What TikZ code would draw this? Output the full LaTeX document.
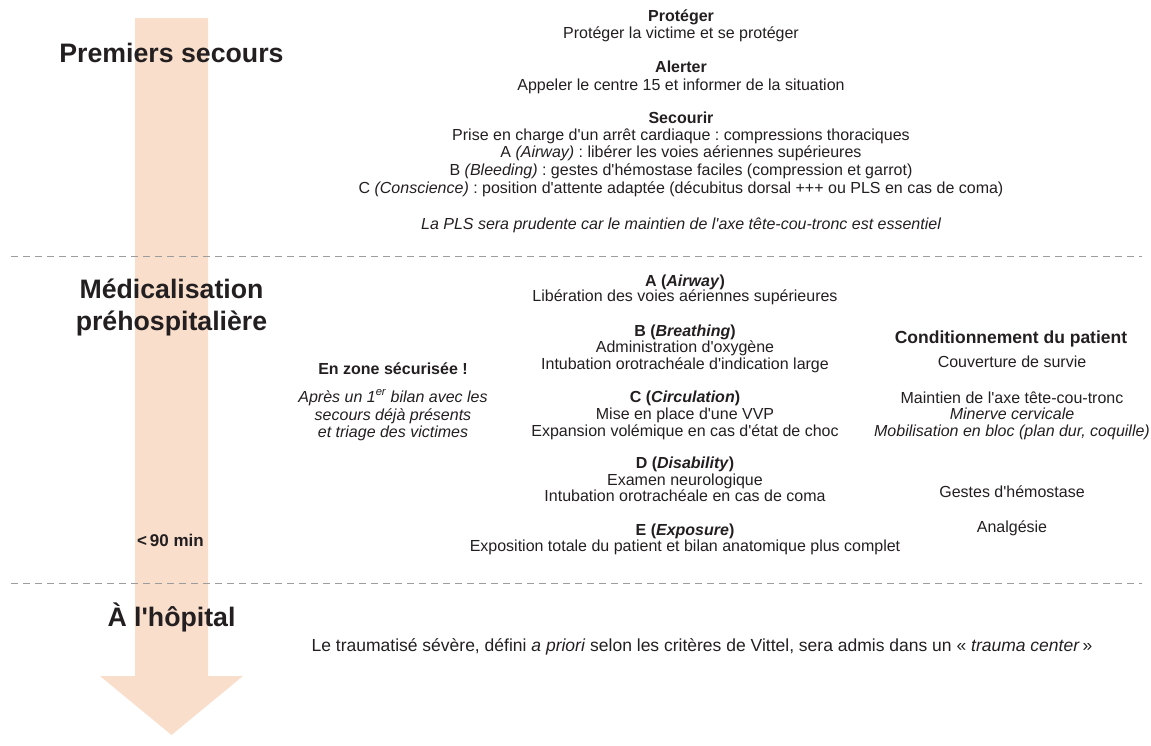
\documentclass[tikz,border=0pt]{standalone}
\usepackage{fontspec}
\setmainfont{Liberation Sans}[Ligatures=TeXOff]
\definecolor{ink}{HTML}{231F20}
\definecolor{peach}{HTML}{F9DECC}
\definecolor{dashc}{HTML}{9C9C9C}
\frenchspacing
\begin{document}
\begin{tikzpicture}[x=1pt,y=-1pt,
  every node/.style={inner sep=0pt, outer sep=0pt, anchor=base, text=ink},
  ttl/.style={font=\fontsize{26.7}{30}\selectfont\bfseries},
  tr/.style={font=\fontsize{16}{18}\selectfont},
  tbf/.style={font=\fontsize{16}{18}\selectfont\bfseries},
  tit/.style={font=\fontsize{16}{18}\selectfont\itshape},
  rbf/.style={font=\fontsize{17.5}{18}\selectfont\bfseries},
  btm/.style={font=\fontsize{17.5}{20}\selectfont},
  sep/.style={draw=dashc, line width=1pt, dash pattern=on 6.5pt off 5.5pt}]
\path[use as bounding box] (0,0) rectangle (1151,745);
% timeline arrow
\fill[peach] (135,18) -- (208,18) -- (208,676) -- (243,676) -- (171.5,735)
  -- (100,676) -- (135,676) -- cycle;
% separators
\coordinate (s1a) at (11,256); \coordinate (s1b) at (1142,256);
\coordinate (s2a) at (11,583); \coordinate (s2b) at (1142,583);
\draw[sep] (s1a) -- (s1b);
\draw[sep] (s2a) -- (s2b);
% ---------- Premiers secours ----------
\node[ttl] (t1) at (171.5,62.7) {Premiers secours};
\node[tbf] (p1) at (681,21) {Protéger};
\node[tr]  (p2) at (681,38.5) {Protéger la victime et se protéger};
\node[tbf] (a1) at (681,72.5) {Alerter};
\node[tr]  (a2) at (681,90) {Appeler le centre 15 et informer de la situation};
\node[tbf] (s1) at (681,123) {Secourir};
\node[tr]  (s2) at (681,140) {Prise en charge d'un arrêt cardiaque : compressions thoraciques};
\node[tr]  (s3) at (681,157.7) {A \textit{(Airway)} : libérer les voies aériennes supérieures};
\node[tr]  (s4) at (681,175.5) {B \textit{(Bleeding)} : gestes d'hémostase faciles (compression et garrot)};
\node[tr]  (s5) at (681,193) {C \textit{(Conscience)} : position d'attente adaptée (décubitus dorsal +++ ou PLS en cas de coma)};
\node[tit] (s6) at (681,229) {La PLS sera prudente car le maintien de l'axe tête-cou-tronc est essentiel};
% ---------- Médicalisation ----------
\node[ttl] (t2a) at (171.5,298) {Médicalisation};
\node[ttl] (t2b) at (171.5,330) {préhospitalière};
\node[tbf] (z1) at (393,374) {En zone sécurisée !};
\node[tit] (z2) at (393,402) {Après un 1\textsuperscript{er} bilan avec les};
\node[tit] (z3) at (393,420) {secours déjà présents};
\node[tit] (z4) at (393,437) {et triage des victimes};
\node[font=\fontsize{17}{18}\selectfont\bfseries] (tm) at (170.5,546) {<\,90 min};
% ABCDE
\node[tbf] (m1) at (685,286.5) {A (\textit{Airway})};
\node[tr]  (m2) at (685,301.5) {Libération des voies aériennes supérieures};
\node[tbf] (m3) at (685,336) {B (\textit{Breathing})};
\node[tr]  (m4) at (685,352.5) {Administration d'oxygène};
\node[tr]  (m5) at (685,369) {Intubation orotrachéale d'indication large};
\node[tbf] (m6) at (685,402.5) {C (\textit{Circulation})};
\node[tr]  (m7) at (685,419) {Mise en place d'une VVP};
\node[tr]  (m8) at (685,436.5) {Expansion volémique en cas d'état de choc};
\node[tbf] (m9) at (685,468) {D (\textit{Disability})};
\node[tr]  (m10) at (685,485.5) {Examen neurologique};
\node[tr]  (m11) at (685,501.5) {Intubation orotrachéale en cas de coma};
\node[tbf] (m12) at (685,535.5) {E (\textit{Exposure})};
\node[tr]  (m13) at (685,551.5) {Exposition totale du patient et bilan anatomique plus complet};
% conditionnement
\node[rbf] (r1) at (1011,343) {Conditionnement du patient};
\node[tr]  (r2) at (1012,367) {Couverture de survie};
\node[tr]  (r3) at (1012,403) {Maintien de l'axe tête-cou-tronc};
\node[tit] (r4) at (1012,419) {Minerve cervicale};
\node[tit] (r5) at (1012,436) {Mobilisation en bloc (plan dur, coquille)};
\node[tr]  (r6) at (1012,497) {Gestes d'hémostase};
\node[tr]  (r7) at (1012,532) {Analgésie};
% ---------- A l'hôpital ----------
\node[ttl] (t3) at (171.5,626.7) {À l'hôpital};
\node[btm] (h1) at (702,651) {Le traumatisé sévère, défini \textit{a priori} selon les critères de Vittel, sera admis dans un «~\textit{trauma center}\,»};
\end{tikzpicture}
\end{document}
